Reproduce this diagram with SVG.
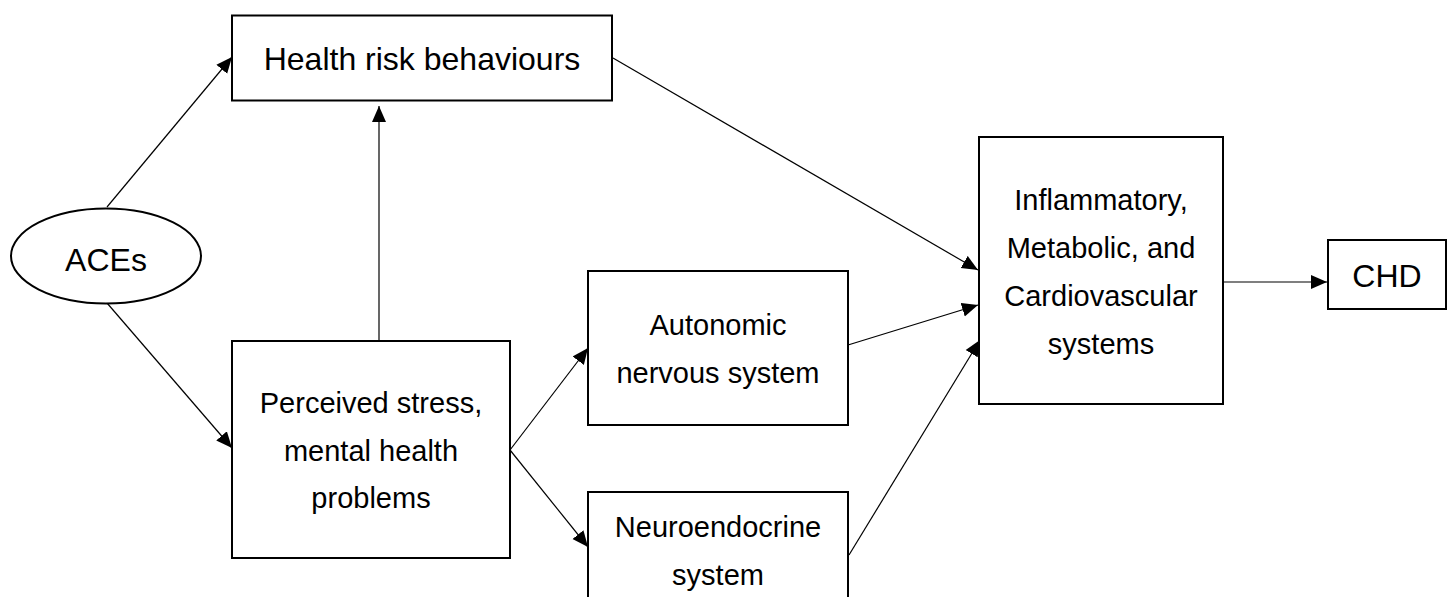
<svg xmlns="http://www.w3.org/2000/svg" width="1453" height="597" viewBox="0 0 1453 597">
  <style>
    .box { fill: #ffffff; stroke: #000000; stroke-width: 2; }
    .edge { fill: none; stroke: #000000; stroke-width: 1.2; }
    .lbl { font-family: "Liberation Sans", Arial, sans-serif; fill: #000000; text-anchor: middle; }
    .big { font-size: 32px; }
    .mid { font-size: 29px; }
  </style>
  <defs>
    <marker id="arrow" markerUnits="userSpaceOnUse" markerWidth="16" markerHeight="15" viewBox="0 0 16 15" refX="16" refY="7.5" orient="auto">
      <path d="M0,0.5 L16,7.5 L0,14.5 z" fill="#000000"/>
    </marker>
  </defs>

  <rect x="0" y="0" width="1453" height="597" fill="#ffffff"/>

  <!-- connectors -->
  <g id="connectors">
    <line class="edge" x1="107" y1="207" x2="232" y2="57" marker-end="url(#arrow)"/>
    <line class="edge" x1="107" y1="303" x2="232" y2="448" marker-end="url(#arrow)"/>
    <line class="edge" x1="379" y1="341" x2="379" y2="106" marker-end="url(#arrow)"/>
    <line class="edge" x1="510" y1="450" x2="588" y2="348" marker-end="url(#arrow)"/>
    <line class="edge" x1="510" y1="450" x2="588" y2="547" marker-end="url(#arrow)"/>
    <line class="edge" x1="613" y1="58" x2="978" y2="270" marker-end="url(#arrow)"/>
    <line class="edge" x1="848" y1="345" x2="978" y2="305" marker-end="url(#arrow)"/>
    <line class="edge" x1="849" y1="555" x2="980" y2="340" marker-end="url(#arrow)"/>
    <line class="edge" x1="1219" y1="282" x2="1327" y2="282" marker-end="url(#arrow)"/>
  </g>

  <!-- nodes -->
  <g id="aces">
    <ellipse class="box" cx="106" cy="256" rx="95" ry="47.5"/>
    <text class="lbl big" x="106" y="271">ACEs</text>
  </g>

  <g id="health-risk">
    <rect class="box" x="232" y="15.5" width="380" height="85"/>
    <text class="lbl big" x="422" y="70">Health risk behaviours</text>
  </g>

  <g id="stress">
    <rect class="box" x="232" y="341" width="278" height="217"/>
    <text class="lbl mid" x="371" y="413">Perceived stress,</text>
    <text class="lbl mid" x="371" y="461">mental health</text>
    <text class="lbl mid" x="371" y="508">problems</text>
  </g>

  <g id="autonomic">
    <rect class="box" x="588" y="271" width="260" height="154"/>
    <text class="lbl mid" x="718" y="335">Autonomic</text>
    <text class="lbl mid" x="718" y="383">nervous system</text>
  </g>

  <g id="neuroendocrine">
    <rect class="box" x="588" y="492" width="260" height="130"/>
    <text class="lbl mid" x="718" y="537">Neuroendocrine</text>
    <text class="lbl mid" x="718" y="585">system</text>
  </g>

  <g id="systems">
    <rect class="box" x="979" y="137" width="244" height="267"/>
    <text class="lbl mid" x="1101" y="210">Inflammatory,</text>
    <text class="lbl mid" x="1101" y="258">Metabolic, and</text>
    <text class="lbl mid" x="1101" y="306">Cardiovascular</text>
    <text class="lbl mid" x="1101" y="354">systems</text>
  </g>

  <g id="chd">
    <rect class="box" x="1328" y="240" width="118" height="69"/>
    <text class="lbl big" x="1387" y="287">CHD</text>
  </g>
</svg>
